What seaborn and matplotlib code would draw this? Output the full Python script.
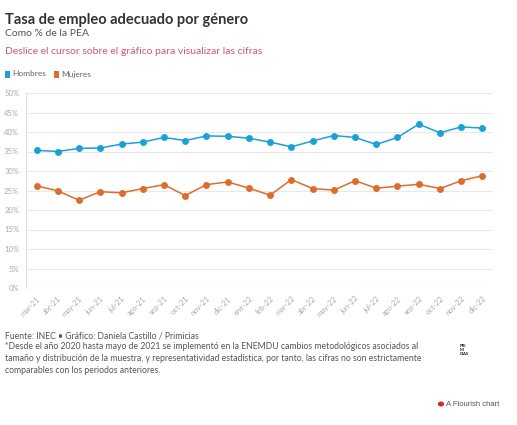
import matplotlib
matplotlib.use('Agg')
import matplotlib.pyplot as plt
from matplotlib.patches import Rectangle, Circle
import seaborn as sns
import pandas as pd

# Data
months = ['mar-21', 'abr-21', 'may-21', 'jun-21', 'jul-21', 'ago-21', 'sep-21',
          'oct-21', 'nov-21', 'dic-21', 'ene-22', 'feb-22', 'mar-22', 'abr-22',
          'may-22', 'jun-22', 'jul-22', 'ago-22', 'sep-22', 'oct-22', 'nov-22',
          'dic-22']
hombres = [35.3, 35.0, 35.8, 35.9, 36.9, 37.4, 38.6, 37.8, 39.0, 38.9, 38.4,
           37.4, 36.2, 37.7, 39.1, 38.6, 36.8, 38.6, 42.0, 39.8, 41.3, 41.0]
mujeres = [26.2, 24.9, 22.5, 24.7, 24.4, 25.5, 26.5, 23.7, 26.5, 27.2, 25.6,
           23.8, 27.8, 25.5, 25.1, 27.5, 25.6, 26.1, 26.6, 25.5, 27.5, 28.8]
yticks = [0, 5, 10, 15, 20, 25, 30, 35, 40, 45, 50]

BLUE = '#1ba1d8'
ORANGE = '#dd6d2c'

sns.set_style('white')
plt.rcParams['font.family'] = ['Lato', 'DejaVu Sans']

df = pd.DataFrame({'mes': months * 2,
                   'valor': hombres + mujeres,
                   'serie': ['Hombres'] * len(months) + ['Mujeres'] * len(months)})
df['x'] = list(range(len(months))) * 2

fig = plt.figure(figsize=(5.17, 4.25), dpi=100)
ax = fig.add_axes([26 / 517, 1 - 288 / 425, 467 / 517, 195 / 425])

sns.lineplot(data=df, x='x', y='valor', hue='serie', palette=[BLUE, ORANGE],
             marker='o', markersize=5, markeredgewidth=0, linewidth=1.1,
             legend=False, ax=ax)

ax.set_xlim(-0.5, len(months) - 0.5)
ax.set_ylim(0, 50)
ax.set_yticks(yticks)
ax.set_yticklabels([f'{t}%' for t in yticks], fontsize=5.5, color='#aaaaaa')
ax.set_xticks(range(len(months)))
ax.set_xticklabels(months, rotation=45, ha='right', rotation_mode='anchor',
                   fontsize=5.5, color='#aaaaaa')
ax.set_xlabel('')
ax.set_ylabel('')
ax.grid(axis='y', color='#e8e8e8', linewidth=0.8)
for s in ['top', 'right', 'bottom']:
    ax.spines[s].set_visible(False)
ax.spines['left'].set_color('#e0e0e0')
ax.spines['left'].set_linewidth(0.8)
ax.tick_params(axis='both', length=3, width=0.6, color='#dddddd', pad=2)

# Titles
fig.text(5 / 517, 1 - 20 / 425, 'Tasa de empleo adecuado por género',
         fontsize=10.5, fontweight='bold', color='#333333', va='center')
fig.text(5 / 517, 1 - 34 / 425, 'Como % de la PEA', fontsize=7.5,
         color='#555555', va='center')
fig.text(5 / 517, 1 - 52 / 425, 'Deslice el cursor sobre el gráfico para visualizar las cifras',
         fontsize=7.5, color='#cc5a6e', va='center')

# Legend
for x0, name, col in [(5, 'Hombres', BLUE), (54, 'Mujeres', ORANGE)]:
    fig.patches.append(Rectangle((x0 / 517, 1 - 78 / 425), 5 / 517, 7 / 425,
                                 transform=fig.transFigure, facecolor=col,
                                 edgecolor='none'))
    fig.text((x0 + 7) / 517, 1 - 74 / 425, name, fontsize=6, color='#666666',
             va='center')

# Footer
fig.text(5 / 517, 1 - 336 / 425, 'Fuente: INEC • Gráfico: Daniela Castillo / Primicias',
         fontsize=6.2, color='#555555', va='center')
note = ('*Desde el año 2020 hasta mayo de 2021 se implementó en la ENEMDU cambios metodológicos asociados al\n'
        'tamaño y distribución de la muestra, y representatividad estadística, por tanto, las cifras no son estrictamente\n'
        'comparables con los periodos anteriores.')
fig.text(5 / 517, 1 - 342 / 425, note, fontsize=6.2, color='#555555',
         va='top', linespacing=1.45)

fig.text(460 / 517, 1 - 350 / 425, 'PRI\nMI\nCIAS', fontsize=3, color='#111111',
         fontweight='bold', va='center', linespacing=0.9)

fig.patches.append(Circle((441 / 517, 1 - 404 / 425), 0.006,
                          transform=fig.transFigure, facecolor='#d42a2a',
                          edgecolor='none'))
fig.text(446 / 517, 1 - 404 / 425, 'A Flourish chart', fontsize=5.5,
         color='#555555', va='center', family=['Liberation Sans', 'DejaVu Sans'])

fig.savefig('out.png', dpi=100)
